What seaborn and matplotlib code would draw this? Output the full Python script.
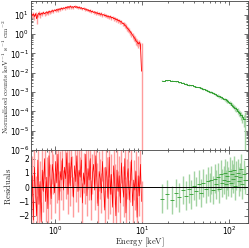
import numpy as np
import pandas as pd
import matplotlib
matplotlib.use("Agg")
import matplotlib.pyplot as plt
import seaborn as sns
from matplotlib.ticker import LogLocator, NullFormatter, MultipleLocator

# soft band spectrum (red)
red_energy = [0.530, 0.546, 0.562, 0.579, 0.597, 0.614, 0.633, 0.652, 0.671, 0.691,
              0.712, 0.734, 0.756, 0.778, 0.802, 0.826, 0.850, 0.876, 0.902, 0.929,
              0.957, 0.986, 1.016, 1.046, 1.077, 1.110, 1.143, 1.177, 1.213, 1.249,
              1.286, 1.325, 1.365, 1.406, 1.448, 1.491, 1.536, 1.582, 1.629, 1.678,
              1.729, 1.780, 1.834, 1.889, 1.945, 2.004, 2.064, 2.126, 2.189, 2.255,
              2.323, 2.392, 2.464, 2.538, 2.614, 2.692, 2.773, 2.856, 2.942, 3.030,
              3.121, 3.215, 3.311, 3.410, 3.513, 3.618, 3.727, 3.838, 3.954, 4.072,
              4.194, 4.320, 4.450, 4.583, 4.721, 4.862, 5.008, 5.158, 5.313, 5.473,
              5.637, 5.806, 5.980, 6.159, 6.344, 6.535, 6.731, 6.933, 7.141, 7.355,
              7.576, 7.803, 8.037, 8.278, 8.527, 8.783, 9.046, 9.318, 9.597, 9.885]
red_flux = [11.8, 9.2, 10.9, 8.1, 11.4, 6.2, 10.1, 12.3, 9.7, 11.9,
            10.8, 13.1, 11.2, 12.6, 14.0, 11.9, 15.2, 13.6, 14.8, 16.4,
            14.9, 17.8, 16.2, 18.9, 17.1, 20.4, 18.6, 21.9, 19.8, 22.7,
            21.1, 24.6, 22.3, 26.8, 23.5, 27.9, 24.2, 26.1, 23.8, 27.2,
            24.0, 26.5, 22.9, 25.1, 21.6, 23.4, 20.1, 21.8, 19.0, 19.9,
            17.2, 18.4, 15.6, 16.9, 14.3, 15.4, 13.1, 14.2, 12.0, 12.9,
            11.2, 12.1, 10.4, 11.3, 9.6, 10.2, 8.9, 9.4, 8.1, 8.7,
            7.6, 8.2, 6.9, 7.4, 6.3, 6.6, 5.6, 5.9, 4.9, 5.1,
            4.3, 4.4, 3.5, 3.5, 2.8, 2.6, 2.1, 1.85, 1.55, 1.30,
            1.10, 0.88, 0.70, 0.60, 0.45, 0.40, 0.31, 0.37, 0.28, 0.012]
red_relerr = [0.30, 0.26, 0.28, 0.34, 0.25, 0.45, 0.27, 0.22, 0.26, 0.21,
              0.22, 0.19, 0.21, 0.20, 0.18, 0.20, 0.17, 0.19, 0.17, 0.16,
              0.17, 0.15, 0.16, 0.14, 0.16, 0.14, 0.15, 0.13, 0.14, 0.13,
              0.14, 0.12, 0.13, 0.12, 0.13, 0.11, 0.13, 0.12, 0.13, 0.11,
              0.12, 0.12, 0.13, 0.12, 0.13, 0.12, 0.13, 0.12, 0.13, 0.13,
              0.14, 0.13, 0.14, 0.13, 0.15, 0.14, 0.15, 0.14, 0.16, 0.15,
              0.16, 0.15, 0.17, 0.16, 0.17, 0.16, 0.18, 0.17, 0.18, 0.18,
              0.19, 0.18, 0.20, 0.19, 0.20, 0.20, 0.21, 0.21, 0.22, 0.22,
              0.23, 0.23, 0.24, 0.25, 0.26, 0.27, 0.28, 0.29, 0.30, 0.31,
              0.32, 0.33, 0.34, 0.35, 0.36, 0.36, 0.38, 0.36, 0.40, 29.0]
red_resid = [-1.9, 0.8, -2.3, 1.4, -0.6, -2.0, 1.9, -1.2, 0.4, -2.4,
             1.2, -0.3, 2.0, -1.0, 0.7, -1.5, 2.2, 0.2, -0.8, 1.6,
             0.9, -0.4, 1.8, 0.3, 2.3, -0.9, 1.1, 0.5, 2.0, -0.2,
             1.4, 0.6, 2.4, -0.5, 1.7, 0.1, 2.1, 0.8, -0.7, 1.5,
             0.4, 2.2, -0.3, 1.2, 0.7, 1.9, -1.1, 1.0, 0.2, 2.3,
             -0.6, 1.3, 0.5, 2.0, -0.9, 0.9, 1.6, -0.2, 2.2, 0.3,
             -1.3, 1.1, 0.6, -0.4, 1.8, 0.0, -1.6, 1.4, 0.7, -0.8,
             2.1, -0.5, 0.9, -1.4, 1.5, 0.2, -2.0, 1.2, -0.3, 0.8,
             -1.1, 1.7, 0.1, -0.7, 2.0, -1.8, 0.6, 1.3, -0.9, 0.4,
             1.9, -1.3, 0.5, -0.2, 1.1, -2.1, 0.8, -0.6, 1.6, -1.0]
red_resid_err = 1.4

# hard band spectrum (green)
green_energy = [17, 19.5, 22, 24.5, 27, 29.5, 32, 34.5, 37, 39.5,
                42, 45, 48, 51, 54, 57, 60, 63, 66, 69,
                72, 75, 78, 81, 84, 87, 90, 93, 96, 99,
                102, 105, 108, 111, 114, 118, 122, 126, 130, 134,
                138, 142, 148, 155]
green_flux = [3.8e-3, 4.0e-3, 3.9e-3, 3.6e-3, 3.3e-3, 3.0e-3, 2.6e-3, 2.3e-3, 2.2e-3, 2.0e-3,
              1.9e-3, 1.75e-3, 1.6e-3, 1.45e-3, 1.3e-3, 1.15e-3, 1.05e-3, 9.6e-4, 8.6e-4, 8.0e-4,
              7.2e-4, 6.6e-4, 6.0e-4, 5.4e-4, 5.0e-4, 4.5e-4, 4.2e-4, 3.8e-4, 3.5e-4, 3.2e-4,
              2.8e-4, 2.6e-4, 2.2e-4, 2.0e-4, 1.7e-4, 1.5e-4, 1.3e-4, 1.1e-4, 9.0e-5, 8.0e-5,
              6.5e-5, 5.0e-5, 4.0e-5, 4.0e-5]
green_relerr = [0.05, 0.05, 0.05, 0.06, 0.06, 0.06, 0.07, 0.07, 0.07, 0.08,
                0.08, 0.09, 0.09, 0.10, 0.10, 0.11, 0.11, 0.12, 0.12, 0.13,
                0.13, 0.14, 0.14, 0.15, 0.16, 0.16, 0.17, 0.18, 0.19, 0.20,
                0.21, 0.22, 0.23, 0.24, 0.26, 0.28, 0.30, 0.32, 0.35, 0.38,
                0.42, 0.48, 0.60, 1.20]
green_resid = [-0.8, -0.5, -0.9, -0.4, -0.7, -0.2, -0.6, -0.1, -0.5, 0.1,
               -0.3, 0.2, -0.4, 0.3, -0.1, 0.4, 0.0, 0.5, -0.2, 0.6,
               0.2, 0.7, -0.1, 0.9, 0.3, 0.5, 1.0, 0.2, 0.8, 0.4,
               1.1, 0.3, 0.9, 0.6, 1.2, 0.1, 0.8, 1.0, 0.4, 0.7,
               1.3, 0.2, 0.9, 0.5]
green_resid_err = 1.0

red = pd.DataFrame({"E": red_energy, "flux": red_flux, "rel": red_relerr, "res": red_resid})
red["err"] = red["flux"] * red["rel"]
green = pd.DataFrame({"E": green_energy, "flux": green_flux, "rel": green_relerr, "res": green_resid})
green["err"] = green["flux"] * green["rel"]

sns.set_style("ticks")
plt.rcParams["font.family"] = ["DejaVu Sans"]

RED, RED_LT = "#ff0000", "#ff9c9c"
GRN, GRN_LT = "#2f9e2f", "#a3d3a3"

fig = plt.figure(figsize=(2.49, 2.48), dpi=100)
ax1 = fig.add_axes([0.125, 0.395, 0.87, 0.600])
ax2 = fig.add_axes([0.125, 0.101, 0.87, 0.294], sharex=ax1)

# top panel: spectra
ax1.errorbar(red["E"], red["flux"], yerr=red["err"], fmt="none", ecolor=RED_LT, elinewidth=1.0)
sns.lineplot(data=red, x="E", y="flux", ax=ax1, color=RED, lw=0.6, estimator=None, sort=False)
ax1.errorbar(green["E"], green["flux"], yerr=green["err"], fmt="none", ecolor=GRN_LT, elinewidth=1.0)
sns.lineplot(data=green, x="E", y="flux", ax=ax1, color=GRN, lw=0.7, estimator=None, sort=False,
             drawstyle="steps-mid")

# bottom panel: residuals
ax2.errorbar(red["E"], red["res"], yerr=red_resid_err, fmt="none", ecolor=RED_LT, elinewidth=1.0)
sns.lineplot(data=red, x="E", y="res", ax=ax2, color=RED, lw=0.5, estimator=None, sort=False)
ax2.errorbar(green["E"], green["res"], yerr=green_resid_err, fmt="none", ecolor=GRN_LT, elinewidth=1.0)
ax2.plot(green["E"], green["res"], ls="none", marker="_", ms=2.5, mew=0.6, color=GRN)
ax2.axhline(0, color="black", lw=0.7)

ax1.set_xscale("log")
ax1.set_yscale("log")
ax1.set_xlim(0.53, 165)
ax1.set_ylim(1e-6, 50)
ax2.set_ylim(-2.5, 2.6)

for ax in (ax1, ax2):
    ax.tick_params(which="both", direction="in", top=True, right=True, labelsize=5.5,
                   width=0.5, pad=1.5, colors="#333333", labelcolor="black")
    ax.tick_params(which="major", length=3)
    ax.tick_params(which="minor", length=1.5)
    for s in ax.spines.values():
        s.set_linewidth(0.6)
        s.set_color("#444444")
    ax.set_xlabel("")
    ax.set_ylabel("")

ax1.yaxis.set_major_locator(LogLocator(base=10, numticks=20))
ax1.yaxis.set_minor_locator(LogLocator(base=10, subs=np.arange(2, 10), numticks=20))
ax1.yaxis.set_minor_formatter(NullFormatter())
ax1.xaxis.set_minor_locator(LogLocator(base=10, subs=np.arange(2, 10), numticks=20))
ax1.tick_params(axis="x", labelbottom=False)
ax2.yaxis.set_major_locator(MultipleLocator(1))
ax2.yaxis.set_minor_locator(MultipleLocator(0.5))
ax2.xaxis.set_minor_formatter(NullFormatter())

ax1.set_ylabel(r"$\mathrm{Normalized\ counts\ keV^{-1}\ s^{-1}\ cm^{-2}}$", fontsize=5.3, math_fontfamily="cm")
ax1.yaxis.set_label_coords(-0.092, 0.49)
ax2.set_ylabel(r"$\mathrm{Residuals}$", fontsize=6.2, math_fontfamily="cm")
ax2.yaxis.set_label_coords(-0.085, 0.5)
ax2.set_xlabel(r"$\mathrm{Energy\ [keV]}$", fontsize=6.2, math_fontfamily="cm")
ax2.xaxis.set_label_coords(0.5, -0.18)

fig.savefig("out.png", dpi=100)
